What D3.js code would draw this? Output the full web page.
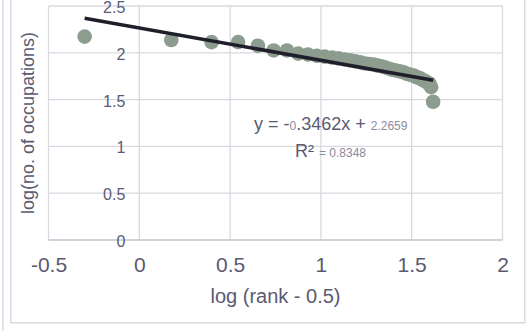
<!DOCTYPE html>
<html>
<head>
<meta charset="utf-8">
<script src="https://cdn.jsdelivr.net/npm/d3@7"></script>
<style>
  html, body { margin: 0; padding: 0; background: #fff; }
  svg { display: block; font-family: "Liberation Sans", Arial, sans-serif; }
</style>
</head>
<body>
<div id="chart"></div>
<script>
// log(rank - 0.5) for each occupation
const xValues = [
  -0.301, 0.176, 0.398, 0.544, 0.653, 0.740, 0.813, 0.875, 0.929, 0.978,
  1.021, 1.061, 1.097, 1.130, 1.161, 1.190, 1.217, 1.243, 1.267, 1.290,
  1.312, 1.332, 1.352, 1.371, 1.389, 1.407, 1.423, 1.439, 1.455, 1.470,
  1.484, 1.498, 1.512, 1.525, 1.538, 1.550, 1.562, 1.574, 1.585, 1.597,
  1.607, 1.618
];
// log(no. of occupations)
const yValues = [
  2.173, 2.137, 2.114, 2.114, 2.076, 2.025, 2.025, 1.991, 1.982, 1.968,
  1.959, 1.949, 1.940, 1.929, 1.919, 1.908, 1.898, 1.886, 1.881, 1.875,
  1.863, 1.857, 1.845, 1.833, 1.820, 1.813, 1.806, 1.799, 1.792, 1.778,
  1.771, 1.763, 1.756, 1.740, 1.732, 1.724, 1.708, 1.699, 1.681, 1.672,
  1.633, 1.477
];
const xTicks = [-0.5, 0, 0.5, 1, 1.5, 2];
const yTicks = [0, 0.5, 1, 1.5, 2, 2.5];
const slope = -0.3462;
const intercept = 2.2659;
const rSquared = 0.8348;

const width = 529, height = 331;
const margin = { top: 6, right: 26.5, bottom: 91, left: 48.5 };
const textColor = "#5a5a72";
const gridColor = "#d9d9e2";
const fmt = d => String(d); // plain hyphen for negatives, like the original

const svg = d3.select("#chart").append("svg")
  .attr("width", width)
  .attr("height", height);

// outer frame lines
svg.append("line")
  .attr("x1", 3).attr("x2", 3).attr("y1", 0).attr("y2", height)
  .attr("stroke", gridColor).attr("stroke-width", 1.5);
svg.append("path")
  .attr("d", `M10.7,0V322.7H524.7V0`)
  .attr("fill", "none")
  .attr("stroke", gridColor).attr("stroke-width", 1.5);

const x = d3.scaleLinear()
  .domain([-0.5, 2])
  .range([margin.left, width - margin.right]);

const y = d3.scaleLinear()
  .domain([0, 2.5])
  .range([height - margin.bottom, margin.top]);

// gridlines
svg.append("g").selectAll("line.vgrid").data(xTicks).enter()
  .append("line")
  .attr("x1", d => x(d)).attr("x2", d => x(d))
  .attr("y1", y(0)).attr("y2", y(2.5))
  .attr("stroke", gridColor).attr("stroke-width", 1.3);

svg.append("g").selectAll("line.hgrid").data(yTicks).enter()
  .append("line")
  .attr("x1", x(-0.5)).attr("x2", x(2))
  .attr("y1", d => y(d)).attr("y2", d => y(d))
  .attr("stroke", d => d === 0 ? "#c4c4cf" : gridColor)
  .attr("stroke-width", d => d === 0 ? 1.6 : 1.3);

// x axis labels
const xAxis = d3.axisBottom(x)
  .tickValues(xTicks)
  .tickSize(0)
  .tickPadding(17)
  .tickFormat(fmt);

const xg = svg.append("g")
  .attr("transform", `translate(0,${y(0)})`)
  .call(xAxis);
xg.select(".domain").remove();
xg.selectAll("text")
  .attr("fill", textColor)
  .attr("font-size", "21px")
  .attr("font-family", "Liberation Sans, Arial, sans-serif");

// y axis labels sit next to the x = 0 axis
const yAxis = d3.axisLeft(y)
  .tickValues(yTicks)
  .tickSize(0)
  .tickPadding(14)
  .tickFormat(fmt);

const yg = svg.append("g")
  .attr("transform", `translate(${x(0)},0)`)
  .call(yAxis);
yg.select(".domain").remove();
yg.selectAll("text")
  .attr("fill", textColor)
  .attr("font-size", "16px")
  .attr("dy", "0.4em")
  .attr("font-family", "Liberation Sans, Arial, sans-serif");

// points
const points = xValues.map((v, i) => ({ x: v, y: yValues[i] }));

svg.append("g").selectAll("circle").data(points).enter()
  .append("circle")
  .attr("cx", d => x(d.x))
  .attr("cy", d => y(d.y))
  .attr("r", 7.3)
  .attr("fill", "#8c9c8e");

// linear trendline
const xMin = d3.min(xValues), xMax = d3.max(xValues);
svg.append("line")
  .attr("x1", x(xMin)).attr("y1", y(slope * xMin + intercept))
  .attr("x2", x(xMax)).attr("y2", y(slope * xMax + intercept))
  .attr("stroke", "#1f1f2b")
  .attr("stroke-width", 3.6)
  .attr("stroke-linecap", "butt");

// equation label
const eq = svg.append("text")
  .attr("x", 254)
  .attr("y", 130)
  .attr("fill", textColor)
  .attr("font-size", "18px");
eq.append("tspan").text("y = -");
eq.append("tspan").attr("font-size", "12px").attr("fill", "#8a8a9c").text("0");
eq.append("tspan").text(".3462x + ");
eq.append("tspan").attr("font-size", "12px").attr("fill", "#8a8a9c").text(intercept.toFixed(4));

const r2 = svg.append("text")
  .attr("x", 295)
  .attr("y", 157)
  .attr("fill", textColor)
  .attr("font-size", "18px");
r2.append("tspan").text("R² ");
r2.append("tspan").attr("font-size", "12px").attr("fill", "#8a8a9c").text("= " + rSquared.toFixed(4));

// axis titles
svg.append("text")
  .attr("x", x(0.75))
  .attr("y", 303)
  .attr("text-anchor", "middle")
  .attr("fill", textColor)
  .attr("font-size", "20px")
  .text("log (rank - 0.5)");

svg.append("text")
  .attr("transform", `translate(34,${y(1.25)}) rotate(-90)`)
  .attr("text-anchor", "middle")
  .attr("fill", textColor)
  .attr("font-size", "18px")
  .text("log(no. of occupations)");
</script>
</body>
</html>
